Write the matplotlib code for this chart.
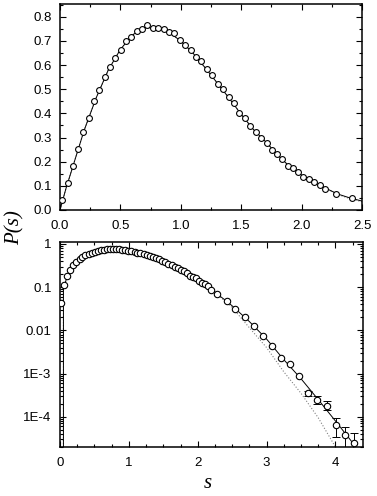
import numpy as np
import matplotlib
matplotlib.use("Agg")
import matplotlib.pyplot as plt
from matplotlib.ticker import MultipleLocator, FixedLocator, FixedFormatter, LogLocator, NullFormatter

# measured spacing distribution (dense part)
s_dense = [0.017, 0.063, 0.105, 0.149, 0.193, 0.237, 0.284, 0.326, 0.370, 0.414,
           0.458, 0.502, 0.546, 0.590, 0.634, 0.678, 0.723, 0.767, 0.814, 0.858,
           0.902, 0.946, 0.990, 1.034, 1.084, 1.123, 1.167, 1.214, 1.261, 1.305,
           1.352, 1.396, 1.440, 1.485, 1.531, 1.573, 1.620, 1.664, 1.711, 1.752,
           1.796, 1.841, 1.885, 1.926, 1.973, 2.014, 2.061, 2.105, 2.152, 2.194]
p_dense = [0.042, 0.113, 0.183, 0.253, 0.322, 0.380, 0.450, 0.497, 0.549, 0.593,
           0.631, 0.663, 0.698, 0.718, 0.742, 0.749, 0.764, 0.755, 0.753, 0.749,
           0.736, 0.732, 0.704, 0.683, 0.664, 0.632, 0.616, 0.582, 0.557, 0.523,
           0.500, 0.466, 0.443, 0.403, 0.380, 0.346, 0.322, 0.299, 0.279, 0.247,
           0.231, 0.210, 0.184, 0.175, 0.159, 0.138, 0.127, 0.118, 0.104, 0.087]

# tail (coarser bins)
s_tail = [2.285, 2.42, 2.546, 2.681, 2.816, 2.95, 3.072, 3.208, 3.338, 3.473,
          3.604, 3.734, 3.870, 4.005, 4.135, 4.270]
p_tail = [0.068, 0.049, 0.032, 0.0202, 0.0127, 0.0076, 0.00438, 0.00227, 0.00165, 8.9e-4,
          3.5e-4, 2.47e-4, 1.8e-4, 6.3e-5, 3.8e-5, 2.5e-5]

# error bars on the last points (lower / upper bounds)
s_err = [3.604, 3.734, 3.870, 4.005, 4.135, 4.270]
p_err = [3.5e-4, 2.47e-4, 1.8e-4, 6.3e-5, 3.8e-5, 2.5e-5]
err_lo = [3.05e-4, 1.93e-4, 1.4e-4, 3.4e-5, 1.5e-5, 1.0e-5]
err_hi = [4.05e-4, 3.06e-4, 2.3e-4, 9.2e-5, 5.8e-5, 4.2e-5]

# two fitted curves
curve_s = [0.0, 0.05, 0.1, 0.2, 0.3, 0.4, 0.5, 0.6, 0.7, 0.8, 0.9, 1.0, 1.1, 1.2,
           1.3, 1.4, 1.5, 1.6, 1.7, 1.8, 1.9, 2.0, 2.1, 2.2, 2.3, 2.4, 2.5, 2.75,
           3.0, 3.25, 3.5, 3.75, 4.0, 4.25, 4.5]
curve_solid = [0.0, 0.09, 0.17, 0.33, 0.465, 0.58, 0.665, 0.725, 0.755, 0.755, 0.736,
               0.70, 0.65, 0.59, 0.527, 0.463, 0.396, 0.334, 0.284, 0.229, 0.18, 0.145,
               0.115, 0.09, 0.066, 0.050, 0.037, 0.016, 0.0063, 0.0021, 7.6e-4, 2.5e-4,
               8e-5, 2.5e-5, 8e-6]
curve_dotted = [0.0, 0.09, 0.17, 0.33, 0.465, 0.58, 0.665, 0.725, 0.755, 0.755, 0.736,
                0.70, 0.65, 0.59, 0.527, 0.463, 0.396, 0.334, 0.284, 0.229, 0.18, 0.145,
                0.115, 0.09, 0.064, 0.047, 0.034, 0.0115, 0.004, 0.0011, 3.5e-4, 9.5e-5,
                2e-5, 4e-6, 7e-7]

plt.rcParams["font.family"] = ["Liberation Sans", "DejaVu Sans"]
plt.rcParams["font.size"] = 9.5

fig = plt.figure(figsize=(3.77, 4.96), dpi=100)
ax1 = fig.add_axes([60 / 377, 1 - 210 / 496, 302 / 377, 206 / 496])
ax2 = fig.add_axes([60 / 377, 1 - 447 / 496, 303 / 377, 205 / 496])

mk = dict(marker="o", ms=4.2, mfc="white", mec="black", mew=0.8, ls="none", zorder=3)

for ax in (ax1, ax2):
    ax.plot(curve_s, curve_dotted, ls=":", color="gray", lw=0.8, zorder=1)
    ax.plot(curve_s, curve_solid, ls="-", color="black", lw=0.7, zorder=2)
    ax.tick_params(which="both", direction="in", top=True, right=True, width=0.8)
    ax.tick_params(which="major", length=4)
    ax.tick_params(which="minor", length=2)
    for sp in ax.spines.values():
        sp.set_linewidth(1.1)

s_top = s_dense + [s for s in s_tail if s < 2.5]
p_top = p_dense + [p for s, p in zip(s_tail, p_tail) if s < 2.5]
ax1.plot(s_top, p_top, **mk)
ax1.set_xlim(0, 2.5)
ax1.set_ylim(0, 0.853)
ax1.xaxis.set_major_locator(MultipleLocator(0.5))
ax1.xaxis.set_minor_locator(MultipleLocator(0.25))
ax1.yaxis.set_major_locator(MultipleLocator(0.1))
ax1.yaxis.set_minor_locator(MultipleLocator(0.05))
ax1.xaxis.set_major_formatter(matplotlib.ticker.FormatStrFormatter("%.1f"))
ax1.yaxis.set_major_formatter(matplotlib.ticker.FormatStrFormatter("%.1f"))
ax1.tick_params(axis="x", pad=7)
ax1.tick_params(axis="y", pad=6)

yerr = [np.array(p_err) - np.array(err_lo), np.array(err_hi) - np.array(p_err)]
ax2.errorbar(s_err, p_err, yerr=yerr, fmt="none", ecolor="black", elinewidth=0.7,
             capsize=3, capthick=0.7, zorder=2)
ax2.plot(s_dense + s_tail, p_dense + p_tail, **dict(mk, ms=4.6))
ax2.set_yscale("log")
ax2.set_xlim(0, 4.4)
ax2.set_ylim(2e-5, 1.11)
ax2.xaxis.set_major_locator(MultipleLocator(1))
ax2.xaxis.set_minor_locator(MultipleLocator(0.25))
ax2.yaxis.set_major_locator(FixedLocator([1, 0.1, 0.01, 1e-3, 1e-4]))
ax2.yaxis.set_major_formatter(FixedFormatter(["1", "0.1", "0.01", "1E-3", "1E-4"]))
ax2.yaxis.set_minor_locator(LogLocator(base=10, subs=np.arange(2, 10)))
ax2.yaxis.set_minor_formatter(NullFormatter())
ax2.tick_params(axis="x", pad=7)
ax2.tick_params(axis="y", pad=6)

fig.text(15 / 377, 1 - 228 / 496, "P(s)", rotation=90, ha="center", va="center",
         family=["Liberation Serif"], style="italic", fontsize=15)
fig.text(208 / 377, 1 - 483 / 496, "s", ha="center", va="center",
         family=["Liberation Serif"], style="italic", fontsize=15)

fig.savefig("out.png", dpi=100)
